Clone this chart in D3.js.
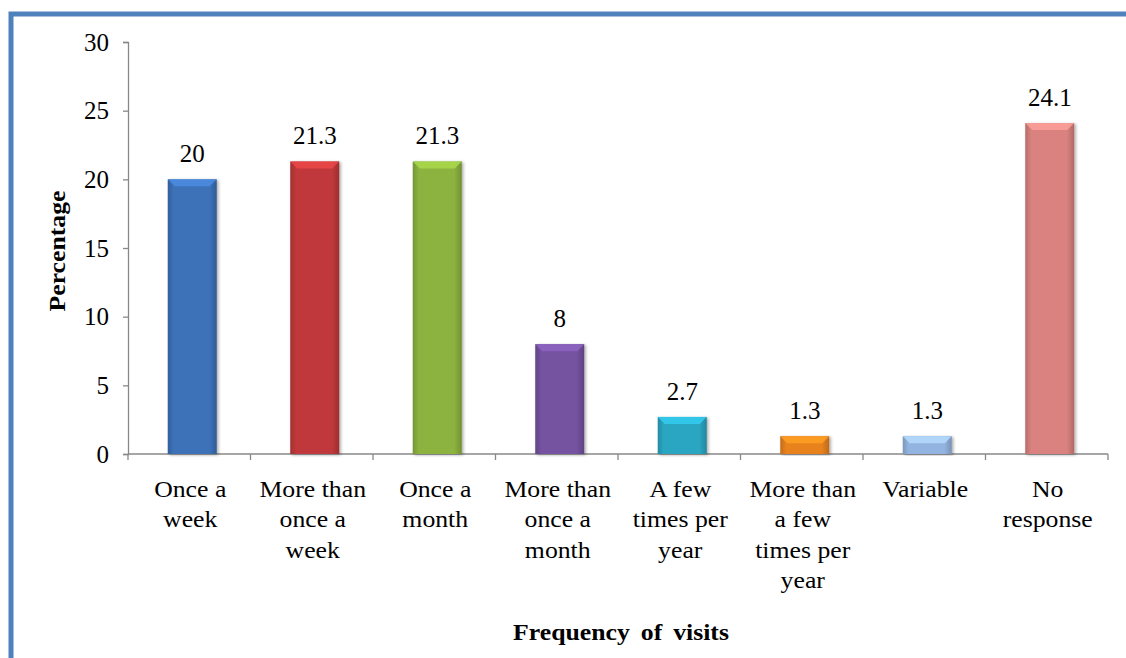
<!DOCTYPE html>
<html>
<head>
<meta charset="utf-8">
<title>Frequency of visits</title>
<style type="text/css">
	body { margin: 0px; background-color: #fff; }
	svg text { font-family: "Liberation Serif", "Times New Roman", serif; fill: #000; }
</style>
<script src="https://cdn.jsdelivr.net/npm/d3@7"></script>
</head>
<body>
<script type="text/javascript">
var categories = [
	["Once a", "week"],
	["More than", "once a", "week"],
	["Once a", "month"],
	["More than", "once a", "month"],
	["A few", "times per", "year"],
	["More than", "a few", "times per", "year"],
	["Variable"],
	["No", "response"]
];
var values = [20, 21.3, 21.3, 8, 2.7, 1.3, 1.3, 24.1];
var valueLabels = ["20", "21.3", "21.3", "8", "2.7", "1.3", "1.3", "24.1"];
var barColors = ["#3d72b8", "#c0393a", "#8cb23f", "#7452a0", "#2aa6c3", "#e8821f", "#93b4e0", "#d9827f"];
var yTicks = [0, 5, 10, 15, 20, 25, 30];

var W = 1126, H = 658;
var serif = "Liberation Serif";
var svg = d3.select("body").append("svg")
	.attr("width", W)
	.attr("height", H)
	.attr("font-family", serif);

// blue frame, only left and top edges show
svg.append("path")
	.attr("d", "M11,660 L11,14 L1130,14")
	.attr("fill", "none")
	.attr("stroke", "#4f81bd")
	.attr("stroke-width", 5);

var plotLeft = 128, plotRight = 1108, plotTop = 42, plotBottom = 454;
var x = d3.scaleBand().domain(d3.range(values.length)).range([plotLeft, plotRight]);
var y = d3.scaleLinear().domain([0, 30]).range([plotBottom, plotTop]);
var barW = 49;
var stretch = 1.12; // the original text runs a bit wide

var defs = svg.append("defs");
barColors.forEach(function(c, i) {
	var g = defs.append("linearGradient").attr("id", "g" + i)
		.attr("x1", 0).attr("x2", 1).attr("y1", 0).attr("y2", 0);
	var base = d3.color(c);
	g.append("stop").attr("offset", 0).attr("stop-color", base.darker(0.5));
	g.append("stop").attr("offset", 0.12).attr("stop-color", base);
	g.append("stop").attr("offset", 0.85).attr("stop-color", base);
	g.append("stop").attr("offset", 1).attr("stop-color", base.darker(0.6));
});
var shadow = defs.append("filter").attr("id", "sh")
	.attr("x", "-20%").attr("y", "-5%").attr("width", "140%").attr("height", "115%");
shadow.append("feDropShadow").attr("dx", 1.5).attr("dy", 1).attr("stdDeviation", 1.5)
	.attr("flood-color", "#000").attr("flood-opacity", 0.35);

// y axis
var yAxis = svg.append("g")
	.attr("transform", "translate(" + plotLeft + ",0)")
	.call(d3.axisLeft(y).tickValues(yTicks).tickSize(5).tickPadding(14));
yAxis.attr("font-family", serif);
yAxis.select(".domain").attr("stroke", "#888").attr("stroke-width", 1.3);
yAxis.selectAll(".tick line").attr("stroke", "#888").attr("stroke-width", 1.3);
yAxis.selectAll(".tick text").attr("font-size", 25).attr("font-family", serif).attr("fill", "#000");

// x axis line and boundary ticks
svg.append("line")
	.attr("x1", plotLeft).attr("x2", plotRight).attr("y1", plotBottom).attr("y2", plotBottom)
	.attr("stroke", "#888").attr("stroke-width", 1.3);
svg.selectAll(".xtick")
	.data(d3.range(values.length + 1))
	.enter().append("line")
	.attr("class", "xtick")
	.attr("x1", function(d) { return plotLeft + d * x.step(); })
	.attr("x2", function(d) { return plotLeft + d * x.step(); })
	.attr("y1", plotBottom).attr("y2", plotBottom + 6)
	.attr("stroke", "#888").attr("stroke-width", 1.3);

// bars
function barX(i) { return x(i) + x.bandwidth() / 2 - barW / 2 + 3; }
var bars = svg.selectAll(".bar")
	.data(values)
	.enter().append("g")
	.attr("class", "bar")
	.attr("filter", "url(#sh)");
bars.append("rect")
	.attr("x", function(d, i) { return barX(i); })
	.attr("y", function(d) { return y(d); })
	.attr("width", barW)
	.attr("height", function(d) { return plotBottom - y(d); })
	.attr("fill", function(d, i) { return "url(#g" + i + ")"; });
// bevel on the top edge
bars.append("path")
	.attr("d", function(d, i) {
		var x0 = barX(i), y0 = y(d);
		var b = Math.min(7, (plotBottom - y0) / 2);
		return "M" + x0 + "," + y0 + " L" + (x0 + barW) + "," + y0 +
			" L" + (x0 + barW - 7) + "," + (y0 + b) + " L" + (x0 + 7) + "," + (y0 + b) + " Z";
	})
	.attr("fill", function(d, i) { return d3.color(barColors[i]).brighter(0.6); })
	.attr("opacity", 0.8);

// value labels
svg.selectAll(".vlab")
	.data(values)
	.enter().append("text")
	.attr("class", "vlab")
	.attr("x", function(d, i) { return barX(i) + barW / 2; })
	.attr("y", function(d) { return y(d) - 17; })
	.attr("text-anchor", "middle")
	.attr("font-size", 25)
	.text(function(d, i) { return valueLabels[i]; });

// category labels
var cat = svg.selectAll(".cat")
	.data(categories)
	.enter().append("text")
	.attr("class", "cat")
	.attr("transform", function(d, i) {
		return "translate(" + (x(i) + x.bandwidth() / 2 + 1) + ",0) scale(" + stretch + ",1)";
	})
	.attr("text-anchor", "middle")
	.attr("font-size", 23);
cat.selectAll("tspan")
	.data(function(d) { return d; })
	.enter().append("tspan")
	.attr("x", 0)
	.attr("y", function(d, j) { return 497 + j * 30.5; })
	.text(function(d) { return d; });

// axis titles
svg.append("text")
	.attr("transform", "translate(621,640) scale(" + stretch + ",1)")
	.attr("text-anchor", "middle")
	.attr("font-size", 23)
	.attr("font-weight", "bold")
	.attr("word-spacing", 4)
	.text("Frequency of visits");
svg.append("text")
	.attr("transform", "translate(65,251) rotate(-90) scale(" + stretch + ",1)")
	.attr("text-anchor", "middle")
	.attr("font-size", 23)
	.attr("font-weight", "bold")
	.text("Percentage");
</script>
</body>
</html>
